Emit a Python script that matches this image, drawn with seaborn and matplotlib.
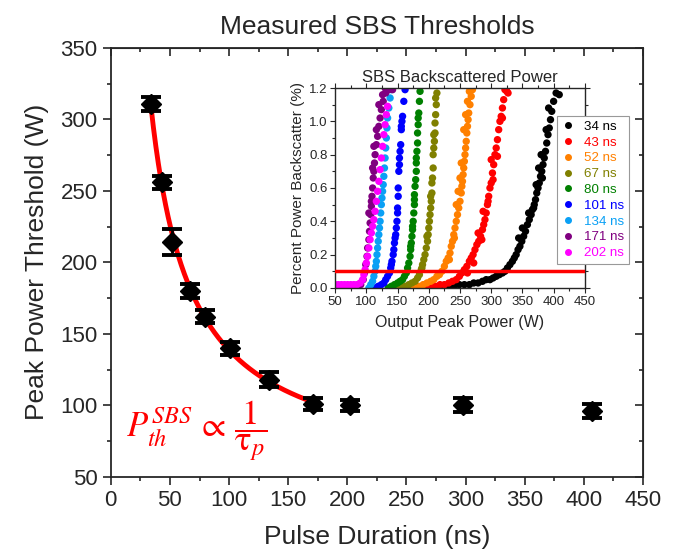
import numpy as np
import pandas as pd
import matplotlib.pyplot as plt
from matplotlib.lines import Line2D
from matplotlib.ticker import MultipleLocator
import seaborn as sns

# main plot: SBS threshold vs pulse duration
pulse_ns = [34, 43, 52, 67, 80, 101, 134, 171, 202, 298, 407]
threshold_w = [311, 256, 214, 180, 162, 140, 118, 101, 100, 100, 96]
threshold_err = [5, 4.5, 9, 5, 4.5, 4.5, 5, 4, 4, 5, 5]
n_fit = 8  # the 1/tau fit uses the first 8 pulses (34 .. 171 ns)

# inset: backscattered power traces (output peak power W, backscatter %)
p34_x = [225, 233, 241, 249, 257, 265, 272, 279, 286, 292, 298, 303, 308, 313, 318, 322,
         326, 330, 334, 337, 340, 343, 346, 349, 352, 355, 358, 361, 364, 366, 369, 371,
         373, 375, 377, 379, 381, 383, 385, 387, 389, 391, 393, 395, 397, 400, 404, 409,
         360, 368, 376, 382, 388, 372, 380, 392, 350, 344]
p34_y = [0.00, 0.01, 0.01, 0.02, 0.02, 0.02, 0.03, 0.03, 0.04, 0.05, 0.05, 0.06, 0.07, 0.08,
         0.09, 0.10, 0.12, 0.14, 0.16, 0.18, 0.20, 0.23, 0.25, 0.28, 0.31, 0.34, 0.38, 0.41,
         0.44, 0.47, 0.50, 0.53, 0.57, 0.60, 0.63, 0.67, 0.70, 0.74, 0.78, 0.82, 0.87, 0.92,
         0.96, 1.01, 1.06, 1.12, 1.17, 1.16,
         0.45, 0.48, 0.72, 0.66, 0.95, 0.62, 0.80, 1.08, 0.36, 0.30]
p43_x = [197, 204, 211, 218, 225, 232, 238, 244, 249, 253, 257, 261, 265, 268, 271, 274,
         277, 280, 283, 286, 288, 290, 292, 294, 296, 298, 300, 302, 304, 306, 308, 310,
         312, 314, 316, 318, 320, 322, 325, 327,
         279, 287, 295, 303, 310, 318, 300, 285, 272, 262]
p43_y = [0.00, 0.01, 0.01, 0.02, 0.02, 0.03, 0.04, 0.05, 0.07, 0.09, 0.11, 0.13, 0.16, 0.18,
         0.20, 0.23, 0.26, 0.28, 0.31, 0.35, 0.38, 0.41, 0.45, 0.50, 0.55, 0.60, 0.63, 0.69,
         0.74, 0.80, 0.84, 0.89, 0.95, 1.00, 1.03, 1.08, 1.13, 1.19, 1.18, 1.17,
         0.33, 0.46, 0.52, 0.65, 0.79, 1.02, 0.77, 0.29, 0.15, 0.09]
p52_x = [170, 177, 184, 191, 197, 203, 208, 213, 217, 221, 225, 228, 231, 234, 236, 238,
         240, 242, 244, 246, 248, 250, 252, 253, 254, 255, 256, 257, 258, 259, 260, 261,
         262, 263, 264, 266, 268, 270,
         250, 256, 262, 247, 241, 233, 259, 265, 252, 244]
p52_y = [0.00, 0.01, 0.01, 0.02, 0.03, 0.04, 0.05, 0.07, 0.08, 0.10, 0.13, 0.16, 0.18, 0.21,
         0.25, 0.28, 0.32, 0.36, 0.40, 0.44, 0.48, 0.52, 0.57, 0.61, 0.64, 0.68, 0.72, 0.76,
         0.80, 0.84, 0.88, 0.93, 0.97, 1.01, 1.05, 1.10, 1.15, 1.19,
         0.66, 0.95, 1.12, 0.58, 0.30, 0.17, 1.04, 1.18, 0.75, 0.50]
p67_x = [150, 156, 162, 168, 173, 178, 182, 185, 188, 190, 192, 194, 196, 198, 199, 200,
         201, 202, 203, 204, 205, 205, 206, 207, 207, 208, 209, 210, 210, 211, 212, 213,
         197, 203, 208, 211, 189]
p67_y = [0.00, 0.01, 0.01, 0.02, 0.03, 0.04, 0.06, 0.08, 0.11, 0.14, 0.17, 0.20, 0.24, 0.28,
         0.32, 0.36, 0.40, 0.44, 0.48, 0.52, 0.57, 0.63, 0.66, 0.72, 0.80, 0.84, 0.88, 0.93,
         0.99, 1.04, 1.10, 1.17,
         0.31, 0.55, 0.92, 1.14, 0.12]
p80_x = [135, 140, 145, 150, 154, 158, 161, 164, 166, 168, 170, 171, 172, 173, 174, 175,
         176, 177, 177, 178, 179, 180, 180, 181, 182, 182, 183, 184, 185, 186,
         174, 177, 180, 183, 171]
p80_y = [0.00, 0.01, 0.02, 0.03, 0.04, 0.05, 0.07, 0.09, 0.12, 0.15, 0.19, 0.23, 0.27, 0.31,
         0.35, 0.40, 0.45, 0.50, 0.56, 0.61, 0.65, 0.70, 0.78, 0.82, 0.87, 0.93, 0.98, 1.05,
         1.12, 1.18,
         0.37, 0.53, 0.75, 1.02, 0.25]
p101_x = [114, 119, 124, 128, 131, 134, 137, 139, 141, 143, 144, 145, 147, 148, 149, 150,
          151, 151, 152, 153, 154, 155, 156, 157, 158, 160, 162,
          146, 150, 153, 156, 140]
p101_y = [0.00, 0.01, 0.02, 0.03, 0.05, 0.07, 0.09, 0.12, 0.16, 0.20, 0.23, 0.27, 0.32, 0.36,
          0.40, 0.45, 0.55, 0.60, 0.70, 0.78, 0.82, 0.86, 0.95, 1.00, 1.03, 1.12, 1.19,
          0.30, 0.48, 0.74, 0.97, 0.14]
p134_x = [104, 107, 110, 112, 114, 115, 116, 117, 118, 119, 120, 121, 122, 123, 124, 125,
          126, 127, 128, 129, 130, 131, 132, 133, 134, 136, 138, 140]
p134_y = [0.00, 0.02, 0.04, 0.07, 0.10, 0.13, 0.16, 0.20, 0.24, 0.28, 0.32, 0.36, 0.40, 0.45,
          0.50, 0.54, 0.58, 0.62, 0.67, 0.72, 0.78, 0.84, 0.90, 0.96, 1.02, 1.08, 1.14, 1.19]
p171_x = [50, 56, 62, 68, 74, 80, 86, 91, 95, 97, 99, 101, 102, 104, 105, 106, 107, 108,
          109, 110, 111, 112, 113, 114, 116, 118, 120, 122, 124, 127, 131, 136, 142,
          104, 110, 116, 120, 126, 112, 108, 130]
p171_y = [0.01, 0.01, 0.01, 0.01, 0.01, 0.01, 0.01, 0.02, 0.05, 0.09, 0.14, 0.19, 0.24, 0.29,
          0.34, 0.39, 0.44, 0.49, 0.55, 0.60, 0.66, 0.70, 0.75, 0.80, 0.86, 0.91, 0.97, 1.02,
          1.07, 1.12, 1.17, 1.19, 1.19,
          0.45, 0.72, 0.95, 1.10, 1.16, 0.85, 0.52, 1.20]
p202_x = [50, 55, 60, 65, 70, 75, 80, 85, 90, 94, 96, 98, 100, 102, 104, 106, 108, 110,
          112, 114, 116, 118, 120, 122, 124, 126, 128, 130, 132, 134]
p202_y = [0.02, 0.02, 0.02, 0.02, 0.02, 0.02, 0.02, 0.02, 0.03, 0.05, 0.08, 0.11, 0.15, 0.19,
          0.24, 0.29, 0.33, 0.37, 0.41, 0.46, 0.52, 0.58, 0.64, 0.71, 0.78, 0.85, 0.92, 0.98,
          1.04, 1.09]

trace_labels = ['34 ns', '43 ns', '52 ns', '67 ns', '80 ns', '101 ns', '134 ns', '171 ns', '202 ns']
trace_colors = ['#000000', '#FF0000', '#FF8000', '#808000', '#008000', '#0000FF',
                '#0AA0F5', '#800080', '#FF00FF']
threshold_level = 0.1

sns.set_style('ticks')
plt.rcParams['font.family'] = ['Liberation Sans', 'DejaVu Sans']
plt.rcParams['mathtext.fontset'] = 'stix'

traces = [(p34_x, p34_y), (p43_x, p43_y), (p52_x, p52_y), (p67_x, p67_y), (p80_x, p80_y),
          (p101_x, p101_y), (p134_x, p134_y), (p171_x, p171_y), (p202_x, p202_y)]
df = pd.concat([pd.DataFrame({'power': x, 'backscatter': y, 'pulse': lab})
                for (x, y), lab in zip(traces, trace_labels)], ignore_index=True)

fig = plt.figure(figsize=(6.84, 5.57), dpi=100)
ax = fig.add_axes([0.162, 0.144, 0.778, 0.770])

# 1/tau fit through the short pulses
tau = np.array(pulse_ns[:n_fit], dtype=float)
a, b = np.polyfit(1 / tau, threshold_w[:n_fit], 1)
tau_fit = np.linspace(tau.min(), tau.max(), 200)
sns.lineplot(x=tau_fit, y=a / tau_fit + b, ax=ax, color='red', lw=3.5, zorder=2)

ax.errorbar(pulse_ns, threshold_w, yerr=threshold_err, fmt='D', color='black',
            ms=10, capsize=7, capthick=2.8, elinewidth=2, zorder=3)

ax.set_xlim(0, 450)
ax.set_ylim(50, 350)
ax.xaxis.set_major_locator(MultipleLocator(50))
ax.xaxis.set_minor_locator(MultipleLocator(25))
ax.yaxis.set_major_locator(MultipleLocator(50))
ax.yaxis.set_minor_locator(MultipleLocator(25))
ax.tick_params(which='both', direction='out', labelsize=16, width=1.2)
ax.tick_params(which='major', length=6)
ax.tick_params(which='minor', length=3)
for s in ax.spines.values():
    s.set_linewidth(1.3)
    s.set_visible(True)

# mirrored inward ticks on top and right
top = ax.secondary_xaxis('top')
top.xaxis.set_major_locator(MultipleLocator(50))
top.xaxis.set_minor_locator(MultipleLocator(25))
top.tick_params(which='both', direction='in', labeltop=False, width=1.2)
right = ax.secondary_yaxis('right')
right.yaxis.set_major_locator(MultipleLocator(50))
right.yaxis.set_minor_locator(MultipleLocator(25))
right.tick_params(which='both', direction='in', labelright=False, width=1.2)
for sec in (top, right):
    sec.tick_params(which='major', length=6)
    sec.tick_params(which='minor', length=3)

ax.set_xlabel('Pulse Duration (ns)', fontsize=19, labelpad=10)
ax.set_ylabel('Peak Power Threshold (W)', fontsize=19, labelpad=8)
ax.set_title('Measured SBS Thresholds', fontsize=19, pad=10)

ax.text(13, 82, r'$P_{th}^{SBS}\,\propto\,\dfrac{1}{\mathrm{\tau}_p}$', color='red',
        fontsize=25, ha='left', va='center')

# inset
ax_in = fig.add_axes([0.490, 0.483, 0.365, 0.359])
sns.scatterplot(data=df, x='power', y='backscatter', hue='pulse', hue_order=trace_labels,
                palette=trace_colors, s=28, linewidth=0, legend=False, ax=ax_in, zorder=2)
ax_in.axhline(threshold_level, color='red', lw=2.5, zorder=3)
ax_in.set_xlim(50, 450)
ax_in.set_ylim(0, 1.2)
ax_in.xaxis.set_major_locator(MultipleLocator(50))
ax_in.xaxis.set_minor_locator(MultipleLocator(25))
ax_in.yaxis.set_major_locator(MultipleLocator(0.2))
ax_in.yaxis.set_minor_locator(MultipleLocator(0.1))
ax_in.yaxis.set_major_formatter('{x:.1f}')
ax_in.tick_params(which='both', direction='out', labelsize=9.5, width=0.8, pad=2,
                  top=True, right=True)
ax_in.tick_params(which='major', length=3.5)
ax_in.tick_params(which='minor', length=2)
for s in ax_in.spines.values():
    s.set_linewidth(1.0)
    s.set_visible(True)
ax_in.set_xlabel('Output Peak Power (W)', fontsize=11.5, labelpad=5)
ax_in.set_ylabel('Percent Power Backscatter (%)', fontsize=11, labelpad=3)
ax_in.set_title('SBS Backscattered Power', fontsize=12, pad=4)

handles = [Line2D([], [], ls='none', marker='o', ms=4, mfc=c, mec=c) for c in trace_colors]
leg = ax_in.legend(handles, trace_labels, loc='upper left', bbox_to_anchor=(0.814, 0.792),
                   bbox_transform=fig.transFigure, fontsize=9.6, frameon=True,
                   fancybox=False, edgecolor='#999999', framealpha=1, handlelength=1.0,
                   handletextpad=0.7, labelspacing=0.26, borderpad=0.35, borderaxespad=0)
leg.get_frame().set_linewidth(0.8)
for t, c in zip(leg.get_texts(), trace_colors):
    t.set_color(c)

fig.savefig('out.png', dpi=100)
